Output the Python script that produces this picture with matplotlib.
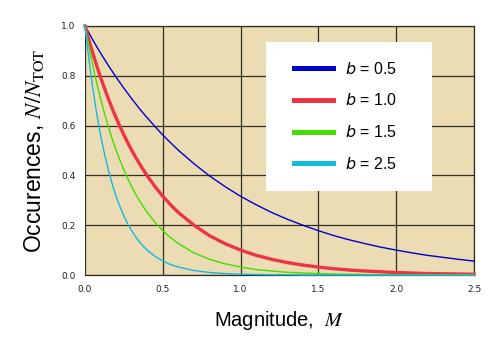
import numpy as np
import matplotlib
matplotlib.use("Agg")
import matplotlib.pyplot as plt
from matplotlib.patches import Rectangle

# magnitude samples (finer near zero where the curves are steep)
magnitude = [0.0, 0.025, 0.05, 0.075, 0.1, 0.125, 0.15, 0.175, 0.2, 0.225, 0.25, 0.275, 0.3,
             0.325, 0.35, 0.375, 0.4, 0.45, 0.5, 0.55, 0.6,
             0.7, 0.8, 0.9, 1.0, 1.1, 1.2, 1.3, 1.4, 1.5, 1.6, 1.7, 1.8, 1.9,
             2.0, 2.1, 2.2, 2.3, 2.4, 2.5]

# N / N_TOT
b05 = [1.000, 0.972, 0.944, 0.917, 0.891, 0.866, 0.841, 0.818, 0.794, 0.772, 0.750, 0.729, 0.708,
       0.688, 0.668, 0.649, 0.631, 0.596, 0.562, 0.531, 0.501,
       0.447, 0.398, 0.355, 0.316, 0.282, 0.251, 0.224, 0.200, 0.178, 0.158, 0.141, 0.126, 0.112,
       0.100, 0.089, 0.079, 0.071, 0.063, 0.056]
b10 = [1.000, 0.944, 0.891, 0.841, 0.794, 0.750, 0.708, 0.668, 0.631, 0.596, 0.562, 0.531, 0.501,
       0.473, 0.447, 0.422, 0.398, 0.355, 0.316, 0.282, 0.251,
       0.200, 0.158, 0.126, 0.100, 0.079, 0.063, 0.050, 0.040, 0.032, 0.025, 0.020, 0.016, 0.013,
       0.010, 0.008, 0.006, 0.005, 0.004, 0.003]
b15 = [1.000, 0.917, 0.841, 0.772, 0.708, 0.649, 0.596, 0.546, 0.501, 0.460, 0.422, 0.387, 0.355,
       0.325, 0.299, 0.274, 0.251, 0.211, 0.178, 0.150, 0.126,
       0.089, 0.063, 0.045, 0.032, 0.022, 0.016, 0.011, 0.008, 0.006, 0.004, 0.003, 0.002, 0.001,
       0.001, 0.001, 0.000, 0.000, 0.000, 0.000]
b25 = [1.000, 0.866, 0.750, 0.649, 0.562, 0.487, 0.422, 0.365, 0.316, 0.274, 0.237, 0.205, 0.178,
       0.154, 0.133, 0.115, 0.100, 0.075, 0.056, 0.042, 0.032,
       0.018, 0.010, 0.006, 0.003, 0.002, 0.001, 0.001, 0.000, 0.000, 0.000, 0.000, 0.000, 0.000,
       0.000, 0.000, 0.000, 0.000, 0.000, 0.000]

labels = ["$b$ = 0.5", "$b$ = 1.0", "$b$ = 1.5", "$b$ = 2.5"]
colors = ["#0000cc", "#ee3344", "#44dd00", "#11bbdd"]
widths = [1.0, 2.4, 1.0, 1.0]

fig = plt.figure(figsize=(5.0, 3.41), dpi=100)
ax = fig.add_axes([0.17, 0.1935, 0.778, 0.7305])
ax.set_facecolor("#ecdcb4")

series = [b05, b10, b15, b25]
for ys, lab, col, lw in zip(series, labels, colors, widths):
    ax.plot(magnitude, ys, color=col, lw=lw, label=lab, zorder=3, clip_on=False)

ax.set_xlim(0, 2.5)
ax.set_ylim(0, 1.0)
ticks_x = np.arange(0, 2.51, 0.5)
ticks_y = np.arange(0, 1.01, 0.2)
ax.set_xticks(ticks_x)
ax.set_yticks(ticks_y)
ax.set_xticklabels(["%.1f" % v for v in ticks_x])
ax.set_yticklabels(["%.1f" % v for v in ticks_y])
ax.tick_params(length=0, labelsize=6.5, colors="#222222", pad=7)
ax.grid(True, color="#332e22", lw=0.9, zorder=1)
ax.set_axisbelow(True)
ax.spines["left"].set_visible(False)
for side in ["top", "right", "bottom"]:
    ax.spines[side].set_color("#332e22")
    ax.spines[side].set_linewidth(0.9)

ax.set_xlabel("Magnitude,  $M$", fontsize=14.5, family="Liberation Sans",
              math_fontfamily="stix", labelpad=11)
ax.set_ylabel("Occurences, $N/N_{\\mathrm{TOT}}$", fontsize=16.5,
              family="Liberation Sans", math_fontfamily="stix", labelpad=11)

# white legend box
ax.add_patch(Rectangle((0.465, 0.337), 0.427, 0.599, transform=ax.transAxes,
                       facecolor="white", edgecolor="none", zorder=4))
leg = ax.legend(loc="upper left", bbox_to_anchor=(0.536, 0.86), frameon=False,
                prop={"family": "Liberation Sans", "size": 11.5},
                handlelength=2.45, handletextpad=0.8, labelspacing=0.98, borderpad=0,
                borderaxespad=0)
leg.set_zorder(5)
for line in leg.get_lines():
    line.set_linewidth(3.6)

fig.savefig("out.png", dpi=100)
